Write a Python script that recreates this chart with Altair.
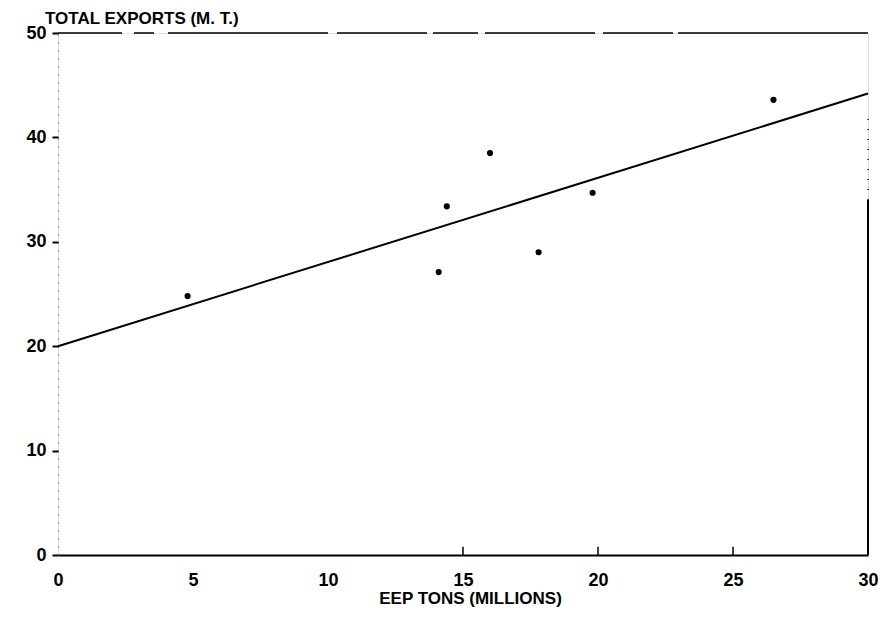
import altair as alt
import pandas as pd

# ---- data ----
eep_tons = [4.8, 14.1, 14.4, 16.0, 17.8, 19.8, 26.5]
total_exports = [24.8, 27.1, 33.4, 38.5, 29.0, 34.7, 43.6]
fit_x = [0, 30]
fit_y = [20.0, 44.2]
x_ticks = [0, 5, 10, 15, 20, 25, 30]
y_ticks = [0, 10, 20, 30, 40, 50]
inner_x_ticks = [15, 20, 25]
top_value = [50]
right_solid = [0, 34]
right_dotted = [34, 42]

FONT = "Liberation Sans"

pts = pd.DataFrame({"x": eep_tons, "y": total_exports})
fit = pd.DataFrame({"x": fit_x, "y": fit_y})
ticks_df = pd.DataFrame({"x": inner_x_ticks, "y": [0] * len(inner_x_ticks), "y2": [0.8] * len(inner_x_ticks)})
top_df = pd.DataFrame({"y": top_value})
right_df = pd.DataFrame({"x": [30, 30], "y": [right_solid[0], right_dotted[0]],
                         "y2": [right_solid[1], right_dotted[1]], "kind": ["solid", "dotted"]})

xscale = alt.Scale(domain=[0, 30], nice=False, zero=False)
yscale = alt.Scale(domain=[0, 50], nice=False, zero=False)

xaxis = alt.Axis(values=x_ticks, title="EEP TONS (MILLIONS)", format="d", grid=False,
                 ticks=False, domainColor="black", domainWidth=2,
                 labelFont=FONT, labelFontSize=18, labelFontWeight="bold", labelColor="black",
                 labelPadding=16, labelFlush=False,
                 titleFont=FONT, titleFontSize=17, titleFontWeight="bold", titleColor="black",
                 titlePadding=1, titleX=412)
yaxis = alt.Axis(values=y_ticks, title=None, format="d", grid=False,
                 tickSize=6, tickWidth=2, tickColor="black", tickOffset=0,
                 domainColor="#444", domainWidth=1, domainDash=[1, 7],
                 labelFont=FONT, labelFontSize=18, labelFontWeight="bold", labelColor="black",
                 labelPadding=6)

X = lambda: alt.X("x:Q", scale=xscale, axis=xaxis)
Y = lambda: alt.Y("y:Q", scale=yscale, axis=yaxis)

points = alt.Chart(pts).mark_circle(size=38, color="black", opacity=1).encode(x=X(), y=Y())
line = alt.Chart(fit).mark_line(color="black", strokeWidth=2).encode(x=X(), y=Y())
inner = alt.Chart(ticks_df).mark_rule(color="black", strokeWidth=1.5).encode(
    x=X(), y=Y(), y2="y2:Q")
top = alt.Chart(top_df).mark_rule(color="black", strokeWidth=1.5,
                                   strokeDash=[190, 5, 70, 8, 110, 7, 45, 6, 90, 9, 160, 14, 20, 12]).encode(y=Y())
right_solid_rule = alt.Chart(right_df[right_df.kind == "solid"]).mark_rule(
    color="black", strokeWidth=2).encode(x=X(), y=Y(), y2="y2:Q")
right_dotted_rule = alt.Chart(right_df[right_df.kind == "dotted"]).mark_rule(
    color="black", strokeWidth=1.5, strokeDash=[1, 9]).encode(x=X(), y=Y(), y2="y2:Q")

chart = alt.layer(top, right_solid_rule, right_dotted_rule, inner, line, points).properties(
    width=810,
    height=522,
    title=alt.TitleParams("TOTAL EXPORTS (M. T.)", anchor="start", frame="group", dx=-13,
                          offset=-4, font=FONT, fontSize=17, fontWeight="bold", color="black"),
    autosize=alt.AutoSizeParams(type="none"),
    padding={"left": 50, "top": 25, "right": 11, "bottom": 55},
).configure_view(stroke=None).configure(background="white")

chart.save("out.html", embed_options={"renderer": "svg", "actions": False})
